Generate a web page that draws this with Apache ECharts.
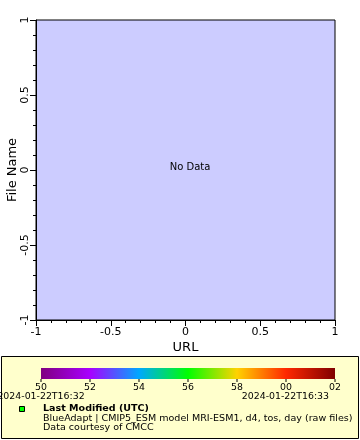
<!DOCTYPE html>
<html><head><meta charset="utf-8">
<script src="https://cdn.jsdelivr.net/npm/echarts@6/dist/echarts.min.js"></script>
<style>html,body{margin:0;padding:0;background:#fff}#c{width:360px;height:440px}</style>
</head><body><div id="c"></div>
<script>
const xAxisName = 'URL';
const yAxisName = 'File Name';
const points = [];            // no data
const noDataText = 'No Data';
const colorbarLabels = ['50','52','54','56','58','00','02'];
const colorbarColors = ['#800080','#a800ff','#00a8ff','#00ff00','#ffd200','#ff2800','#800000'];
const timeStart = '2024-01-22T16:32';
const timeEnd = '2024-01-22T16:33';
const legendTitle = 'Last Modified (UTC)';
const legendLine1 = 'BlueAdapt | CMIP5_ESM model MRI-ESM1, d4, tos, day (raw files)';
const legendLine2 = 'Data courtesy of CMCC';

const FONT = 'DejaVu Sans';
const LF = '9.4px ' + FONT;
const LF2 = '9.55px ' + FONT;
const chart = echarts.init(document.getElementById('c'), null, {renderer:'canvas'});

const cbX0 = 41, cbX1 = 335, cbY = 368, cbH = 11;
const graphics = [
  {type:'rect', shape:{x:1.5,y:356.5,width:357,height:82}, style:{fill:'#ffffcc',stroke:'#000',lineWidth:1}, z:0},
  {type:'rect', shape:{x:cbX0,y:cbY,width:cbX1-cbX0,height:cbH}, style:{
    fill:new echarts.graphic.LinearGradient(0,0,1,0, colorbarColors.map((c,i)=>({offset:i/(colorbarColors.length-1),color:c})))}, z:1},
  {type:'text', x:190, y:167, style:{text:noDataText, font:'10px '+FONT, fill:'#000', align:'center', verticalAlign:'middle'}, z:5},
  {type:'text', x:41, y:397, style:{text:timeStart, font:LF, fill:'#000', align:'center', verticalAlign:'middle'}, z:2},
  {type:'text', x:329, y:397, style:{text:timeEnd, font:LF, fill:'#000', align:'right', verticalAlign:'middle'}, z:2},
  {type:'rect', shape:{x:19.5,y:406.5,width:5,height:5}, style:{fill:'#00ff00',stroke:'#000',lineWidth:1}, z:2},
  {type:'text', x:43, y:408.5, style:{text:legendTitle, font:'bold '+LF2, fill:'#000', align:'left', verticalAlign:'middle'}, z:2},
  {type:'text', x:43, y:418.5, style:{text:legendLine1, font:LF2, fill:'#000', align:'left', verticalAlign:'middle'}, z:2},
  {type:'text', x:43, y:428, style:{text:legendLine2, font:LF2, fill:'#000', align:'left', verticalAlign:'middle'}, z:2}
];
colorbarLabels.forEach((t,i)=>{
  const x = cbX0 + i*(cbX1-cbX0)/(colorbarLabels.length-1);
  graphics.push({type:'line', shape:{x1:x,y1:cbY+cbH,x2:x,y2:cbY+cbH+3}, style:{stroke:'#000',lineWidth:1}, z:2});
  graphics.push({type:'text', x:x, y:388, style:{text:t, font:LF, fill:'#000', align:'center', verticalAlign:'middle'}, z:2});
});

const axisCommon = {
  type:'value', min:-1, max:1, interval:0.5,
  nameMoveOverlap:false,
  axisLine:{show:true, onZero:false, lineStyle:{color:'#000', width:1}},
  axisTick:{show:true, inside:false, length:6, lineStyle:{color:'#000'}},
  minorTick:{show:true, splitNumber:5, length:3, lineStyle:{color:'#000'}},
  splitLine:{show:false},
  axisLabel:{color:'#000', fontFamily:FONT, fontSize:11,
    formatter:v=>String(v)},
  nameTextStyle:{color:'#000', fontFamily:FONT, fontSize:13}
};

chart.setOption({
  animation:false,
  backgroundColor:'#fff',
  grid:{left:36, top:20, width:299, height:300, containLabel:false, outerBoundsMode:'none',
    show:true, backgroundColor:'#ccccff', borderColor:'#000', borderWidth:1},
  xAxis:Object.assign({}, axisCommon, {name:xAxisName, nameLocation:'middle', nameGap:21,
    axisLabel:Object.assign({}, axisCommon.axisLabel, {margin:7})}),
  yAxis:Object.assign({}, axisCommon, {name:yAxisName, nameLocation:'middle', nameGap:17,
    axisLabel:Object.assign({}, axisCommon.axisLabel, {rotate:90, margin:5})}),
  series:[{type:'scatter', data:points}],
  graphic:graphics
});
</script></body></html>
